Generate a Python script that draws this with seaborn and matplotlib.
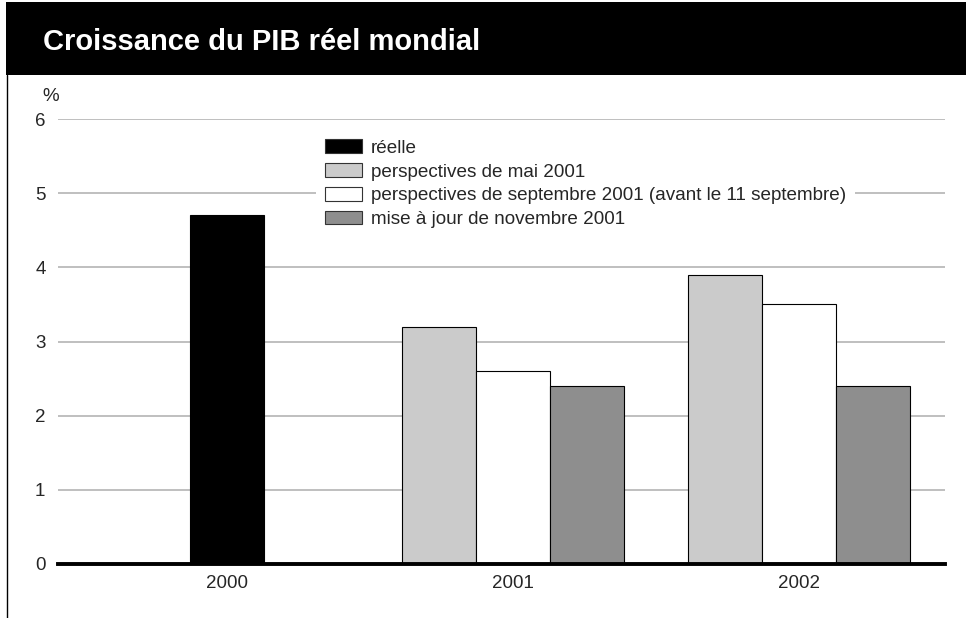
import numpy as np
import pandas as pd
import seaborn as sns
import matplotlib.pyplot as plt
from matplotlib.patches import Rectangle, Patch
from matplotlib.lines import Line2D

# données (en %)
years = ["2000", "2001", "2002"]
series = [
    "réelle",
    "perspectives de mai 2001",
    "perspectives de septembre 2001 (avant le 11 septembre)",
    "mise à jour de novembre 2001",
]
reelle = [4.7, np.nan, np.nan]
mai_2001 = [np.nan, 3.2, 3.9]
sept_2001 = [np.nan, 2.6, 3.5]
nov_2001 = [np.nan, 2.4, 2.4]
colors = ["#000000", "#cbcbcb", "#ffffff", "#8e8e8e"]

values = [reelle, mai_2001, sept_2001, nov_2001]
bar_w = 0.259

# table longue, barres centrées sur chaque année
rows = []
for i, year in enumerate(years):
    present = [k for k in range(len(series)) if not np.isnan(values[k][i])]
    n = len(present)
    for j, k in enumerate(present):
        rows.append({"pos": i + (j - (n - 1) / 2) * bar_w,
                     "series": series[k], "value": values[k][i]})
df = pd.DataFrame(rows)
df["pos"] = df["pos"].round(4)

sns.set_style("white")
plt.rcParams["font.family"] = ["Liberation Sans", "DejaVu Sans"]

fig = plt.figure(figsize=(9.66, 6.18), dpi=100)
ax = fig.add_axes([58 / 966, 54 / 618, 887 / 966, 445 / 618])

palette = dict(zip(series, colors))
sns.barplot(data=df, x="pos", y="value", hue="series", hue_order=series,
            palette=palette, native_scale=True, dodge=False, width=1.0,
            edgecolor="black", linewidth=0.8, saturation=1, legend=False,
            ax=ax, zorder=3)

ax.set_xlim(-0.59, 2.512)
ax.set_ylim(0, 6)
ax.set_yticks(range(7))
ax.set_xticks(range(len(years)))
ax.set_xticklabels(years)
ax.set_xlabel("")
ax.set_ylabel("")
ax.tick_params(axis="both", length=0, labelsize=13.5)
ax.tick_params(axis="y", pad=9)
ax.tick_params(axis="x", pad=8)

ax.yaxis.grid(True, color="#b4b4b4", linewidth=1.2, zorder=0)
ax.set_axisbelow(True)
for s in ["top", "right", "left"]:
    ax.spines[s].set_visible(False)
ax.spines["bottom"].set_color("black")
ax.spines["bottom"].set_linewidth(2.8)
ax.spines["bottom"].set_zorder(5)

# légende
handles = [Patch(facecolor=c, edgecolor="#333333", linewidth=0.8) for c in colors]
leg = fig.legend(handles, series, loc="upper left",
                 bbox_to_anchor=(316 / 966, 1 - 130 / 618),
                 frameon=True, facecolor="white", edgecolor="none",
                 framealpha=1, fancybox=False, fontsize=13.6,
                 handlelength=1.95, handleheight=0.75, handletextpad=0.45,
                 labelspacing=0.33, borderpad=0.5, borderaxespad=0)

ax.text(-0.018, 1.05, "%", transform=ax.transAxes, fontsize=13.5,
        ha="left", va="center")

# bandeau du titre
fig.add_artist(Rectangle((6 / 966, 1 - 75 / 618), 1, 73 / 618,
                         transform=fig.transFigure, facecolor="black",
                         edgecolor="none"))
fig.add_artist(Line2D([6.5 / 966, 6.5 / 966], [0, 1 - 75 / 618],
                      transform=fig.transFigure, color="black", linewidth=1))
fig.text(43 / 966, 1 - 42 / 618, "Croissance du PIB réel mondial",
         color="white", fontsize=21, fontweight="bold", ha="left", va="center")

plt.savefig("out.png", dpi=100)
